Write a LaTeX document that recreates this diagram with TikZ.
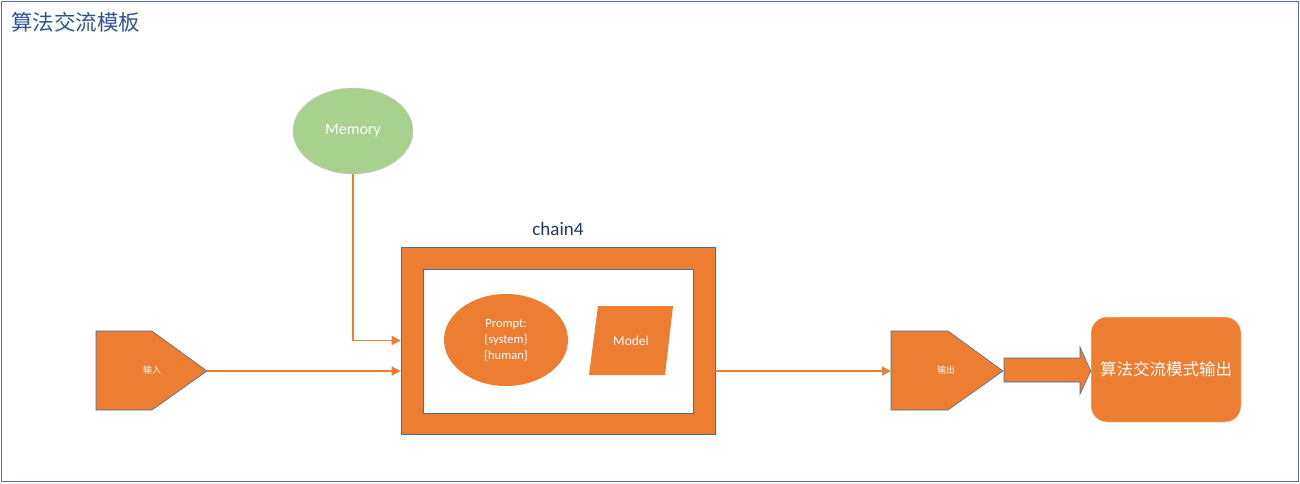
\documentclass[tikz,border=0pt]{standalone}
\usepackage{fontspec}
\setmainfont{Carlito}
\newfontfamily\cjk{Noto Sans CJK SC}
\usetikzlibrary{shapes.geometric,arrows.meta}
\definecolor{org}{HTML}{ED7D31}
\definecolor{edge}{HTML}{41719C}
\definecolor{frame}{HTML}{5B6E9A}
\definecolor{titleblue}{HTML}{2F5597}
\definecolor{navy}{HTML}{203864}
\definecolor{memgreen}{HTML}{A9D18E}
\tikzset{
  orangefill/.style={fill=org, draw=edge, line width=0.6pt},
  link/.style={draw=org, line width=1.3pt, -{Triangle[length=9pt,width=9pt]}},
  whitetext/.style={text=white, inner sep=0pt, align=center}
}
\begin{document}
\begin{tikzpicture}[x=1pt,y=-1pt]
\useasboundingbox (0,0) rectangle (1300,483);
\fill[white] (0,0) rectangle (1300,483);
\draw[frame, line width=0.8pt] (1,1) rectangle (1298,481);
\node[anchor=west, text=titleblue, inner sep=0pt, font=\cjk\fontsize{21.5}{25}\selectfont] (title) at (11,22) {算法交流模板};

% Memory
\node[ellipse, fill=memgreen, draw=black!20, line width=0.5pt, minimum width=120, minimum height=86, inner sep=0pt, text=white, font=\fontsize{16}{19}\selectfont] (mem) at (353,131) {Memory};

% chain4 box
\node[rectangle, orangefill, minimum width=314, minimum height=187, inner sep=0pt] (chain) at (558,340.5) {};
\node[rectangle, fill=white, draw=edge, line width=0.6pt, minimum width=270, minimum height=144, inner sep=0pt] (inner) at (558,341) {};
\node[text=navy, inner sep=0pt, font=\fontsize{19}{22}\selectfont] (chainlbl) at (558,229) {chain4};

% Prompt ellipse
\node[ellipse, fill=org, minimum width=124, minimum height=92, inner sep=0pt, whitetext, font=\fontsize{12.5}{16}\selectfont] (prompt) at (506,340) {Prompt:\\\{system\}\\\{human\}};

% Model parallelogram
\fill[org] (598,306) -- (673,306) -- (665,375) -- (589,375) -- cycle;
\node[whitetext, font=\fontsize{13.5}{16}\selectfont] (model) at (631,341) {Model};

% input pentagon
\filldraw[orangefill] (96,331) -- (152,331) -- (207,371) -- (152,410) -- (96,410) -- cycle;
\coordinate (intip) at (207,371);
\node[whitetext, font=\cjk\fontsize{9}{11}\selectfont] (inlbl) at (152,370) {输入};

% output pentagon
\filldraw[orangefill] (891,331) -- (948,331) -- (1003,371) -- (948,410) -- (891,410) -- cycle;
\coordinate (outleft) at (891,371);
\coordinate (outtip) at (1003,371);
\node[whitetext, font=\cjk\fontsize{9}{11}\selectfont] (outlbl) at (946,370) {输出};

% final box
\node[rectangle, rounded corners=16pt, fill=org, draw=black!15, line width=0.5pt, minimum width=150, minimum height=105, inner sep=0pt, whitetext, font=\cjk\fontsize{16.5}{20}\selectfont] (final) at (1166,369.5) {算法交流模式输出};

% block arrow
\filldraw[orangefill] (1004,358) -- (1080,358) -- (1080,347) -- (final.west |- outtip) -- (1080,394) -- (1080,382) -- (1004,382) -- cycle;

% connectors
\draw[link] (mem.south) |- (chain.west);
\draw[link] (intip) -- (chain.west |- intip);
\draw[link] (chain.east |- intip) -- (outleft);
\end{tikzpicture}
\end{document}
